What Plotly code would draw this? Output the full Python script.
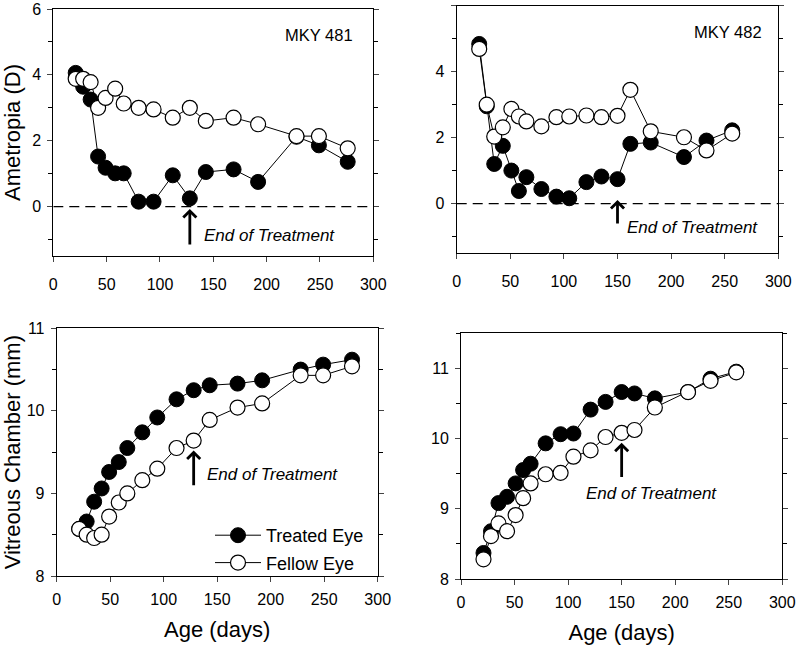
import plotly.graph_objects as go

# ---------------- data ----------------
age_481 = [21, 28, 35, 42, 49, 58, 66, 80, 94, 112, 128, 143, 169, 192, 228, 249, 276]
ametropia_481_treated = [4.06, 3.64, 3.25, 1.52, 1.18, 1.01, 1.01, 0.15, 0.15, 0.95, 0.25, 1.05, 1.13, 0.75, 2.12, 1.86, 1.36]
ametropia_481_fellow = [3.88, 3.88, 3.78, 3.00, 3.30, 3.58, 3.13, 3.00, 2.95, 2.70, 3.00, 2.60, 2.70, 2.50, 2.14, 2.14, 1.77]
vitreous_481_treated = [8.57, 8.66, 8.90, 9.06, 9.26, 9.38, 9.55, 9.74, 9.92, 10.14, 10.25, 10.31, 10.33, 10.37, 10.50, 10.56, 10.62]
vitreous_481_fellow = [8.57, 8.50, 8.46, 8.50, 8.72, 8.89, 9.00, 9.16, 9.30, 9.55, 9.64, 9.89, 10.04, 10.09, 10.43, 10.43, 10.54]

age_482 = [21, 28, 35, 43, 51, 58, 65, 79, 93, 105, 121, 135, 150, 162, 181, 212, 233, 257]
ametropia_482_treated = [4.84, 2.95, 1.20, 1.75, 1.00, 0.38, 0.80, 0.44, 0.21, 0.16, 0.65, 0.82, 0.74, 1.81, 1.85, 1.41, 1.91, 2.22]
ametropia_482_fellow = [4.69, 3.00, 2.03, 2.31, 2.87, 2.64, 2.49, 2.34, 2.62, 2.64, 2.67, 2.62, 2.66, 3.45, 2.19, 2.01, 1.61, 2.12]
vitreous_482_treated = [8.37, 8.68, 9.08, 9.17, 9.36, 9.55, 9.64, 9.93, 10.06, 10.07, 10.41, 10.52, 10.66, 10.64, 10.57, 10.66, 10.85, 10.95]
vitreous_482_fellow = [8.28, 8.61, 8.79, 8.68, 8.91, 9.15, 9.36, 9.49, 9.51, 9.74, 9.83, 10.02, 10.08, 10.12, 10.44, 10.66, 10.82, 10.94]

end_treatment_481 = 128
end_treatment_482 = 150
animal_labels = ["MKY 481", "MKY 482"]
series_names = ["Treated Eye", "Fellow Eye"]

FONT = "Liberation Sans, Arial, sans-serif"
W, H = 796, 649

fig = go.Figure()

def add_pair(xa, ya, ages, treated, fellow, legend):
    fig.add_trace(go.Scatter(
        x=ages, y=treated, mode="lines+markers", name=series_names[0],
        xaxis=xa, yaxis=ya, showlegend=legend, legendgroup="t",
        line=dict(color="black", width=1),
        marker=dict(symbol="circle", size=15, color="black", line=dict(color="black", width=1))))
    fig.add_trace(go.Scatter(
        x=ages, y=fellow, mode="lines+markers", name=series_names[1],
        xaxis=xa, yaxis=ya, showlegend=legend, legendgroup="f",
        line=dict(color="black", width=1),
        marker=dict(symbol="circle", size=15, color="white", line=dict(color="black", width=1.2))))

add_pair("x", "y", age_481, ametropia_481_treated, ametropia_481_fellow, False)
add_pair("x2", "y2", age_482, ametropia_482_treated, ametropia_482_fellow, False)
add_pair("x3", "y3", age_481, vitreous_481_treated, vitreous_481_fellow, True)
add_pair("x4", "y4", age_482, vitreous_482_treated, vitreous_482_fellow, False)

def px_dom_x(a, b):
    return [a / W, b / W]

def px_dom_y(top, bottom):
    return [1 - bottom / H, 1 - top / H]

xcommon = dict(range=[0, 300], dtick=50, tick0=0, ticks="outside", ticklen=5, tickwidth=1,
               showline=True, linecolor="black", linewidth=1, mirror=True, showgrid=False,
               zeroline=False, tickfont=dict(size=16, family=FONT, color="black"))
ycommon = dict(ticks="outside", ticklen=5, tickwidth=1, showline=True, linecolor="black",
               linewidth=1, mirror="ticks", showgrid=False, zeroline=False,
               tickfont=dict(size=16, family=FONT, color="black"), ticklabelstandoff=3)
title_font = dict(size=22, family=FONT, color="black")

fig.update_layout(
    width=W, height=H, margin=dict(l=0, r=0, t=0, b=0, autoexpand=False),
    paper_bgcolor="white", plot_bgcolor="white",
    font=dict(family=FONT, color="black"),
    xaxis=dict(xcommon, domain=px_dom_x(53.3, 373.3), anchor="y", ticklabelstandoff=9),
    yaxis=dict(ycommon, domain=px_dom_y(9, 256), anchor="x", range=[-1.5, 6], dtick=2, tick0=0,
               minor=dict(dtick=1, ticks="outside", ticklen=4, tickcolor="black"),
               title=dict(text="Ametropia (D)", font=title_font, standoff=8)),
    xaxis2=dict(xcommon, domain=px_dom_x(456.7, 778.3), anchor="y2", ticklabelstandoff=9),
    yaxis2=dict(ycommon, domain=px_dom_y(5.7, 253), anchor="x2", range=[-1.5, 6], dtick=2, tick0=0,
                minor=dict(dtick=1, ticks="outside", ticklen=4, tickcolor="black")),
    xaxis3=dict(xcommon, domain=px_dom_x(56.7, 377.7), anchor="y3", ticklabelstandoff=4,
                title=dict(text="Age (days)", font=title_font, standoff=14)),
    yaxis3=dict(ycommon, domain=px_dom_y(328.3, 576), anchor="x3", range=[8, 11], dtick=1, tick0=8,
                minor=dict(dtick=0.5, ticks="outside", ticklen=4, tickcolor="black"),
                title=dict(text="Vitreous Chamber (mm)", font=title_font, standoff=4)),
    xaxis4=dict(xcommon, domain=px_dom_x(461, 782.3), anchor="y4", ticklabelstandoff=4,
                title=dict(text="Age (days)", font=title_font, standoff=14)),
    yaxis4=dict(ycommon, domain=px_dom_y(333, 579), anchor="x4", range=[8, 11.5], dtick=1, tick0=8,
                minor=dict(dtick=0.5, ticks="outside", ticklen=4, tickcolor="black")),
    legend=dict(x=210 / W, y=1 - 517 / H, xanchor="left", yanchor="top",
                bgcolor="rgba(0,0,0,0)", font=dict(size=18, family=FONT, color="black"),
                tracegroupgap=1, itemsizing="trace", itemwidth=46),
)

# dashed zero lines on the ametropia panels
for xr, yr in [("x", "y"), ("x2", "y2")]:
    fig.add_shape(type="line", xref=xr, yref=yr, x0=0, x1=300, y0=0, y1=0,
                  line=dict(color="black", width=1.3, dash="10px,6px"), layer="below")

# animal labels
fig.add_annotation(x=249, y=5.2, xref="x", yref="y", text=animal_labels[0], showarrow=False,
                   font=dict(size=16.5, family=FONT, color="black"))
fig.add_annotation(x=253, y=5.2, xref="x2", yref="y2", text=animal_labels[1], showarrow=False,
                   font=dict(size=16.5, family=FONT, color="black"))

# end-of-treatment arrows and labels
arrows = [
    ("x", "y", end_treatment_481, -0.07, -1.2, 139.4, -0.88, "left"),
    ("x2", "y2", end_treatment_482, 0.11, -0.65, 157, -0.74, "left"),
    ("x3", "y3", end_treatment_481, 9.52, 9.08, 138.6, 9.23, "left"),
    ("x4", "y4", end_treatment_482, 9.94, 9.43, 178.3, 9.22, "center"),
]
for xr, yr, xa, ytip, ytail, tx, ty, anc in arrows:
    fig.add_annotation(x=xa, y=ytip, ax=xa, ay=ytail, xref=xr, yref=yr, axref=xr, ayref=yr,
                       text="", showarrow=True, arrowhead=4, arrowsize=0.9, arrowwidth=2.8,
                       arrowcolor="black", standoff=0, startstandoff=0)
    fig.add_annotation(x=tx, y=ty, xref=xr, yref=yr, text="<i>End of Treatment</i>",
                       showarrow=False, xanchor=anc,
                       font=dict(size=17, family=FONT, color="black"))

fig.write_html("out.html", config={"displayModeBar": False},
               post_script="document.body.style.margin='0';document.body.style.overflow='hidden';")
